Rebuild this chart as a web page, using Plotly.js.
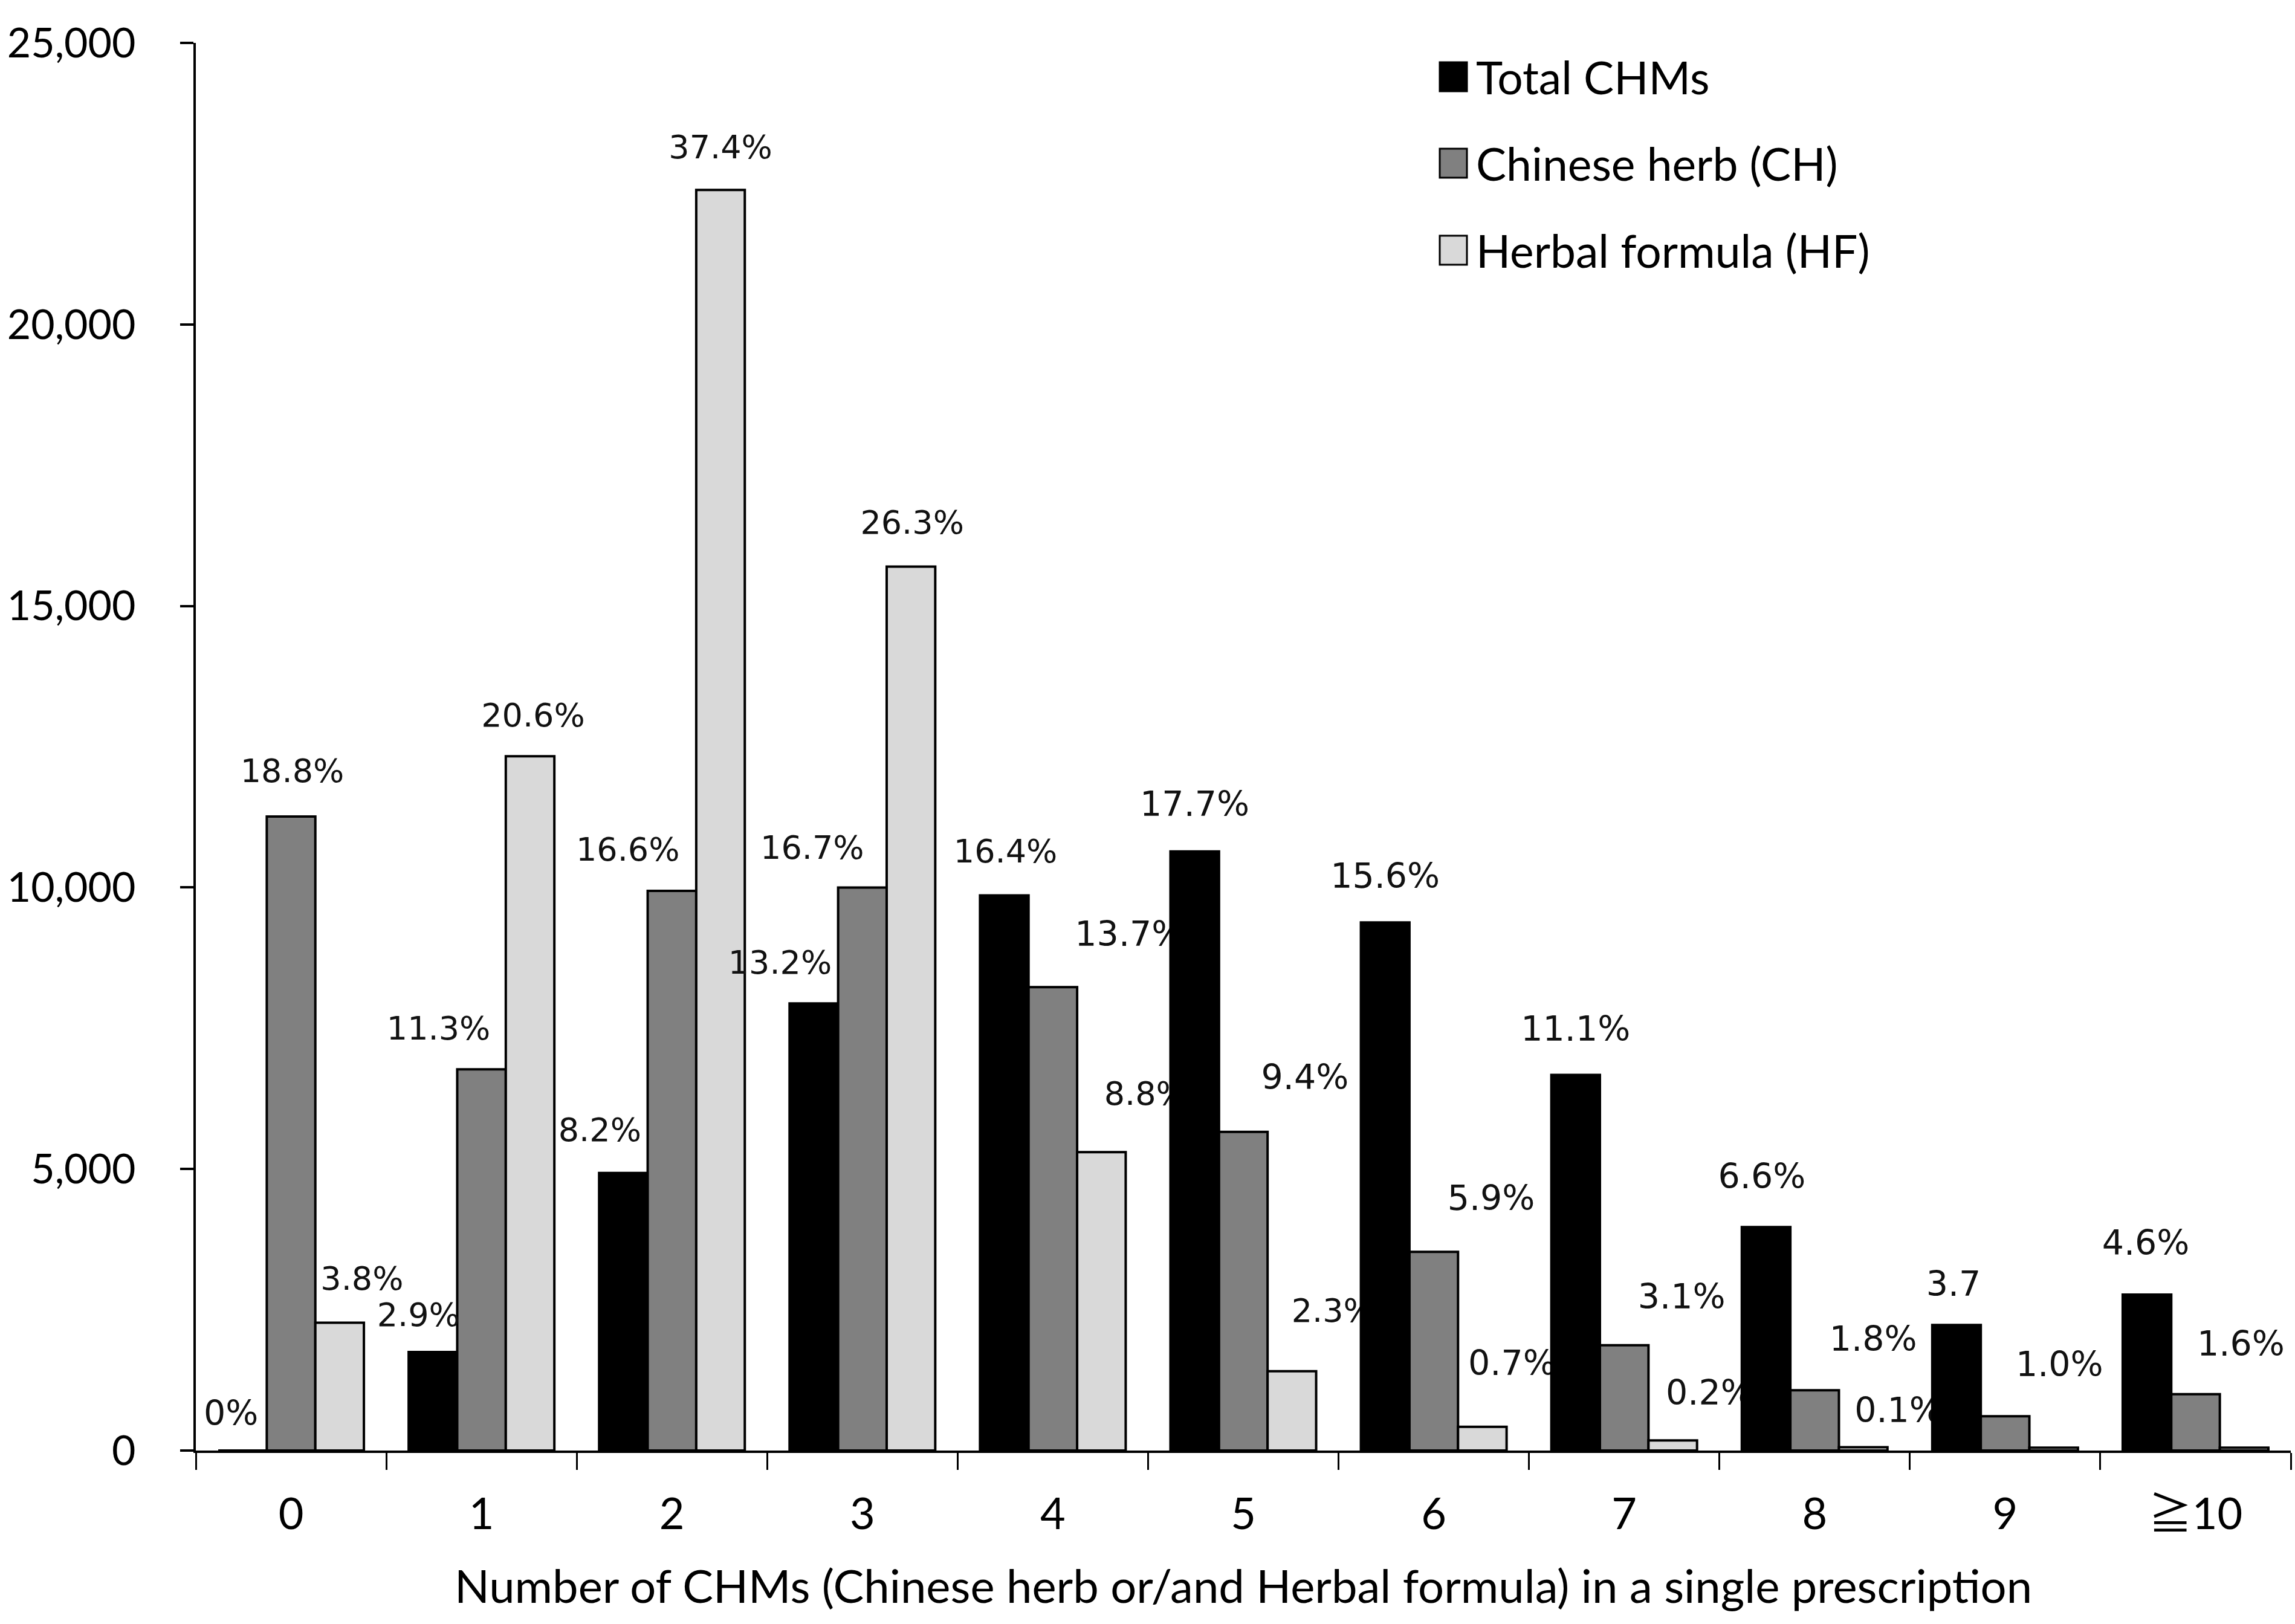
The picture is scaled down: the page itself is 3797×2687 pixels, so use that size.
<!DOCTYPE html>
<html>
<head>
<meta charset="utf-8">
<script src="https://cdn.plot.ly/plotly-3.0.1.min.js"></script>
<style>html,body{margin:0;padding:0;background:#fff}</style>
</head>
<body>
<div id="grafico" style="width:3797px;height:2687px"></div>
<script>
// datos
const categorias = ["0", "1", "2", "3", "4", "5", "6", "7", "8", "9", "≧10"];
const totalCHMs = [0, 1750, 4930, 7940, 9860, 10640, 9380, 6670, 3970, 2230, 2770];
const chineseHerb = [11260, 6770, 9940, 10000, 8230, 5660, 3530, 1870, 1070, 610, 1000];
const herbalFormula = [2270, 12330, 22390, 15700, 5300, 1410, 420, 180, 60, 50, 50];
const etiquetasTotal = ["0%", "2.9%", "8.2%", "13.2%", "16.4%", "17.7%", "15.6%", "11.1%", "6.6%", "3.7", "4.6%"];
const etiquetasCH = ["18.8%", "11.3%", "16.6%", "16.7%", "13.7%", "9.4%", "5.9%", "3.1%", "1.8%", "1.0%", "1.6%"];
const etiquetasHF = ["3.8%", "20.6%", "37.4%", "26.3%", "8.8%", "2.3%", "0.7%", "0.2%", "0.1%", "", ""];
const nombresSeries = ["Total CHMs", "Chinese herb (CH)", "Herbal formula (HF)"];
const yTicks = [0, 5000, 10000, 15000, 20000, 25000];

// estilo / posiciones (px)
const W = 3797, H = 2687;
const M = { l: 324, r: 7, t: 71, b: 287 };
const plotW = W - M.l - M.r, plotH = H - M.t - M.b;
const yMax = 25000;
const catPx = plotW / categorias.length;
const valPx = plotH / yMax;
const colores = ["#000000", "#808080", "#d9d9d9"];
const bargap = 0.235;
const anchoBarra = (1 - bargap) / 3;

const fuenteEje = "Lato, 'Noto Sans CJK TC', sans-serif";
const fuenteEtiq = "'DejaVu Sans', sans-serif";

// desplazamiento de cada etiqueta respecto del tope de su barra (px)
const desplX = [
  [-19, -24, -39, -56, 2, 0, 0, 0, -7, -5, -2],
  [2, -71, -73, -83, 127, 102, 95, 95, 97, 90, 75],
  [37, 5, 0, 2, 73, 68, 49, 61, 58, 0, 0]
];
const desplY = [
  [56, 56, 66, 63, 68, 73, 71, 71, 78, 63, 80],
  [71, 63, 63, 61, 83, 85, 83, 75, 80, 80, 78],
  [68, 63, 66, 68, 92, 95, 100, 73, 56, 0, 0]
];
const grande = [
  [1, 0, 0, 0, 0, 1, 1, 1, 1, 1, 1],
  [0, 0, 0, 0, 1, 1, 1, 1, 1, 1, 1],
  [0, 0, 0, 0, 0, 0, 1, 1, 1, 0, 0]
];
// etiquetas que en el original quedan tapadas por la barra siguiente
const debajo = [
  [0, 0, 0, 0, 0, 0, 0, 0, 0, 0, 0],
  [0, 0, 0, 0, 1, 0, 0, 0, 0, 1, 0],
  [0, 0, 0, 0, 1, 1, 1, 1, 1, 0, 0]
];

const idx = categorias.map((_, i) => i);
const series = [totalCHMs, chineseHerb, herbalFormula];
const etiquetas = [etiquetasTotal, etiquetasCH, etiquetasHF];

function trazaEtiquetas(eje, capa) {
  const xs = [], ys = [], txt = [], tam = [];
  series.forEach((valores, s) => {
    const off = (s - 1) * anchoBarra;
    valores.forEach((v, i) => {
      if (!etiquetas[s][i] || debajo[s][i] !== capa) return;
      xs.push(i + off + desplX[s][i] / catPx);
      ys.push(v + desplY[s][i] / valPx);
      txt.push(etiquetas[s][i]);
      tam.push(grande[s][i] ? 57 : 54);
    });
  });
  return {
    type: "scatter",
    mode: "text",
    xaxis: eje,
    yaxis: "y",
    x: xs,
    y: ys,
    text: txt,
    textposition: "middle center",
    textfont: { family: fuenteEtiq, size: tam, color: "#111" },
    cliponaxis: false,
    showlegend: false,
    hoverinfo: "skip"
  };
}

const trazas = [];
// capa de abajo (eje x) -> las barras en x2 se dibujan encima
trazas.push(trazaEtiquetas("x", 1));

series.forEach((valores, s) => {
  trazas.push({
    type: "bar",
    name: nombresSeries[s],
    xaxis: "x2",
    yaxis: "y",
    x: idx,
    y: valores,
    marker: { color: colores[s], line: { color: "#000", width: 4 } },
    showlegend: false,
    hoverinfo: "skip"
  });
});

// resto de etiquetas, por encima de las barras
trazas.push(trazaEtiquetas("x2", 0));

// leyenda manual (cuadros grandes como en el original)
const leyendaX = 2382, leyendaFilas = [127, 270, 414];
const pxX = px => (px - M.l) / plotW;
const pxY = py => (M.t + plotH - py) / plotH;
const shapes = [], annotations = [];
nombresSeries.forEach((nombre, s) => {
  const cy = leyendaFilas[s];
  shapes.push({
    type: "rect", xref: "paper", yref: "paper",
    x0: pxX(leyendaX), x1: pxX(leyendaX + 45),
    y0: pxY(cy + 24), y1: pxY(cy - 24),
    fillcolor: colores[s], line: { color: "#000", width: 3 }
  });
  annotations.push({
    xref: "paper", yref: "paper",
    x: pxX(leyendaX + 58), y: pxY(cy),
    xanchor: "left", yanchor: "middle",
    text: nombre, showarrow: false,
    font: { family: fuenteEje, size: 75, color: "#000" }
  });
});

const layout = {
  width: W,
  height: H,
  margin: M,
  paper_bgcolor: "#fff",
  plot_bgcolor: "rgba(0,0,0,0)",
  barmode: "group",
  bargap: bargap,
  bargroupgap: 0,
  showlegend: false,
  xaxis: {
    range: [-0.5, categorias.length - 0.5],
    tickmode: "array",
    tickvals: idx,
    ticktext: categorias,
    ticks: "",
    showline: true,
    linecolor: "#000",
    linewidth: 4,
    showgrid: false,
    zeroline: false,
    ticklabelstandoff: 40,
    tickfont: { family: fuenteEje, size: 72, color: "#000" },
    minor: {
      tickmode: "array",
      tickvals: idx.map(i => i - 0.5).concat([categorias.length - 0.5]),
      ticks: "outside",
      ticklen: 28,
      tickwidth: 3,
      tickcolor: "#000",
      showgrid: false
    },
    title: {
      text: "Number of CHMs (Chinese herb or/and Herbal formula) in a single prescription",
      font: { family: fuenteEje, size: 76, color: "#000" },
      standoff: 55
    }
  },
  xaxis2: {
    overlaying: "x",
    range: [-0.5, categorias.length - 0.5],
    visible: false
  },
  yaxis: {
    range: [0, yMax],
    tickmode: "array",
    tickvals: yTicks,
    tickformat: ",",
    ticks: "outside",
    ticklen: 22,
    tickwidth: 4,
    tickcolor: "#000",
    showline: true,
    linecolor: "#000",
    linewidth: 4,
    showgrid: false,
    zeroline: false,
    ticklabelstandoff: 60,
    tickfont: { family: fuenteEje, size: 68, color: "#000" }
  },
  shapes: shapes,
  annotations: annotations
};

Plotly.newPlot("grafico", trazas, layout, { staticPlot: true });
</script>
</body>
</html>
